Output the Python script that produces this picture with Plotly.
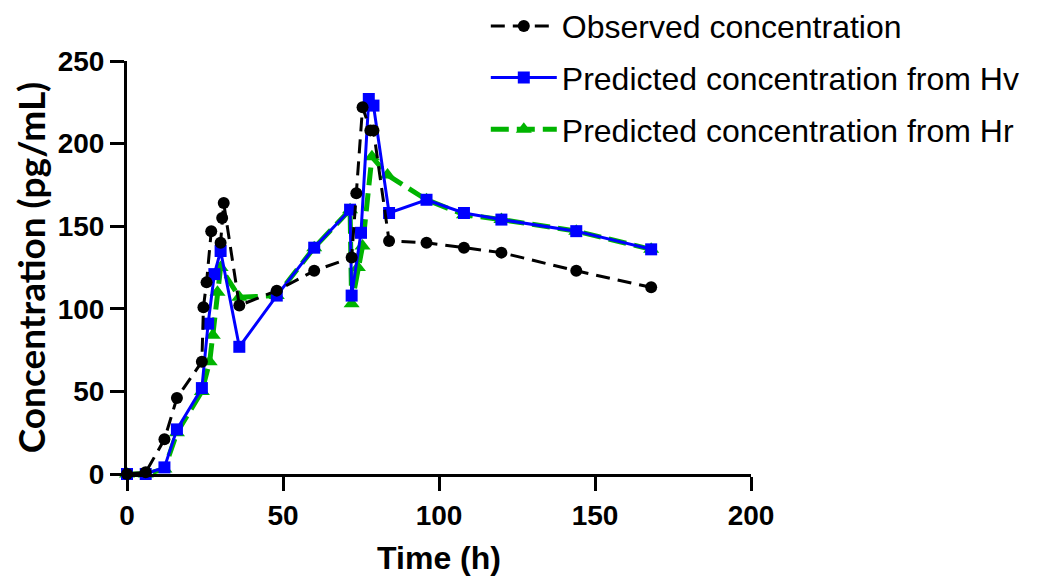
import plotly.graph_objects as go

# Observed concentration
obs_t = [0, 6, 12, 16, 24, 24.5, 25.5, 27, 30, 30.5, 31, 36, 48, 60, 72, 73.5, 75.5, 78, 79, 84, 96, 108, 120, 144, 168]
obs_c = [0, 1, 21, 46, 68, 101, 116, 147, 140, 155, 164, 102, 111, 123, 131, 170, 222, 208, 208, 141, 140, 137, 134, 123, 113]

# Predicted concentration from Hv
hv_t = [0, 6, 12, 16, 24, 26, 28, 30, 36, 48, 60, 71.5, 72, 75, 77.5, 79, 84, 96, 108, 120, 144, 168]
hv_c = [0, 0, 4, 27, 52, 91, 121, 135, 77, 108, 137, 160, 108, 146, 227, 223, 158, 166, 158, 154, 147, 136]

# Predicted concentration from Hr
hr_t = [0, 6, 12, 16, 24, 26.5, 27.5, 29, 30, 36, 48, 60, 71.5, 72, 74, 75.5, 78.5, 83.5, 96, 108, 120, 144, 168]
hr_c = [0, 0, 3, 25, 50, 68, 84, 110, 125, 107, 108, 137, 160, 103, 125, 138, 192, 181, 166, 157, 154, 147, 136]

x_ticks = [0, 50, 100, 150, 200]
y_ticks = [0, 50, 100, 150, 200, 250]

names = ["Observed concentration",
         "Predicted concentration from Hv",
         "Predicted concentration from Hr"]

fig = go.Figure()

fig.add_trace(go.Scatter(
    x=hr_t, y=hr_c, name=names[2], mode="lines+markers",
    line=dict(color="#00b400", width=5, dash="18px,8px"),
    marker=dict(symbol="triangle-up", size=14, color="#00b400"),
    cliponaxis=False, legendrank=3, legendgroup="c"))

fig.add_trace(go.Scatter(
    x=hv_t, y=hv_c, name=names[1], mode="lines+markers",
    line=dict(color="#0000ff", width=3),
    marker=dict(symbol="square", size=12, color="#0000ff"),
    cliponaxis=False, legendrank=2, legendgroup="b"))

fig.add_trace(go.Scatter(
    x=obs_t, y=obs_c, name=names[0], mode="lines+markers",
    line=dict(color="black", width=3, dash="14px,8px"),
    marker=dict(symbol="circle", size=12, color="black"),
    cliponaxis=False, legendrank=1, legendgroup="a"))

axis_common = dict(
    showline=True, linewidth=3, linecolor="black",
    ticks="outside", ticklen=14, tickwidth=3, tickcolor="black",
    showgrid=False, zeroline=False, automargin=False,
    tickfont=dict(family="Liberation Sans, Arial", size=28, color="black", weight="bold"),
)

fig.update_layout(
    width=1033, height=571,
    margin=dict(l=119, r=290, t=53, b=105, autoexpand=False),
    paper_bgcolor="white", plot_bgcolor="white",
    xaxis=dict(range=[0, 200], tickvals=x_ticks, **axis_common,
               title=dict(text="<b>Time (h)</b>", standoff=18,
                          font=dict(family="Liberation Sans, Arial", size=32, color="black"))),
    yaxis=dict(range=[0, 250], tickvals=y_ticks, **axis_common,
               title=dict(text="<b>Concentration (pg/mL)</b>", standoff=8,
                          font=dict(family="Lato, Open Sans, Arial", size=37, color="black"))),
    legend=dict(x=0.575, y=1.151, xanchor="left", yanchor="top",
                font=dict(family="Liberation Sans, Arial", size=32, color="black"),
                traceorder="grouped", tracegroupgap=7, itemwidth=66,
                bgcolor="rgba(0,0,0,0)"),
    showlegend=True,
)

fig.write_html("out.html")
